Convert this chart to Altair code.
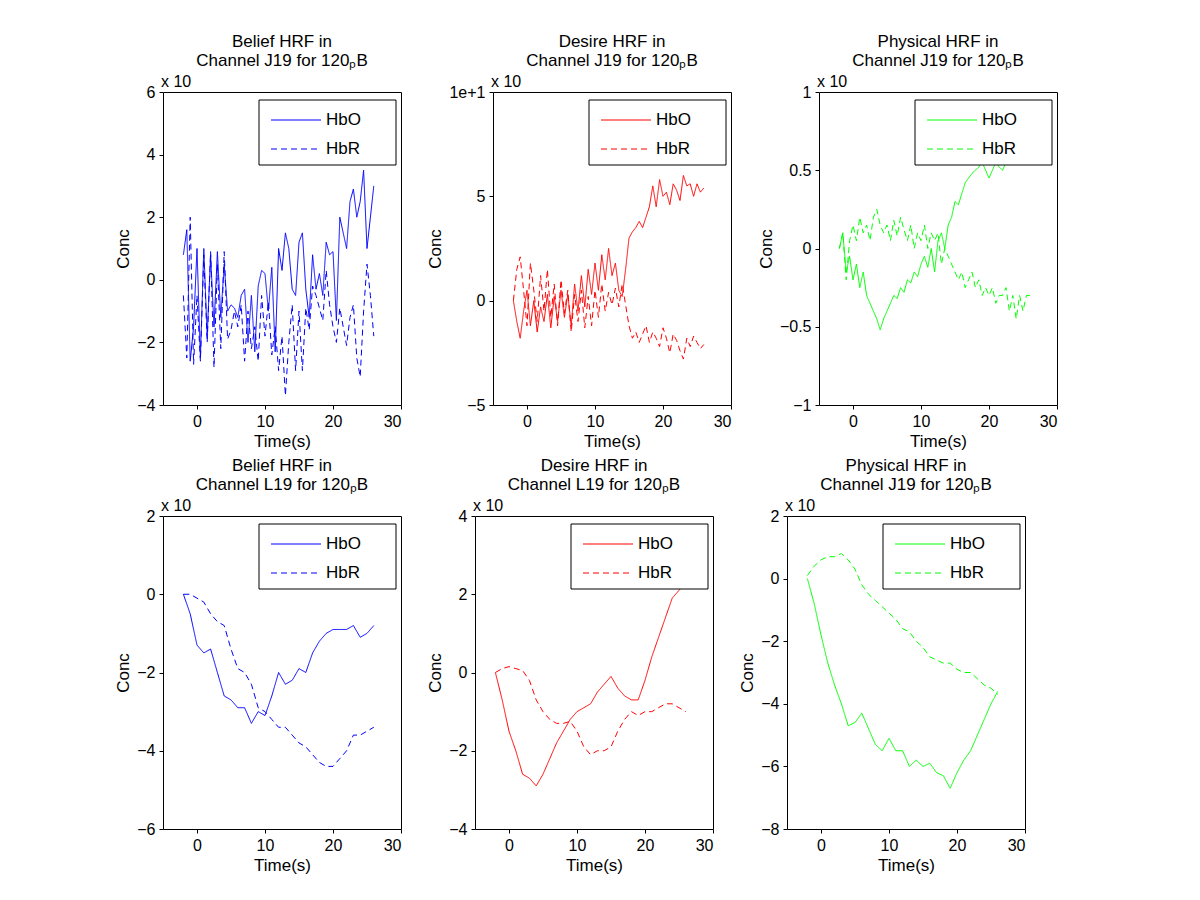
import altair as alt
import pandas as pd

T_FINE = [i * 0.5 - 2 for i in range(57)]
T_COARSE = list(range(-2, 27))
LEGEND = ["HbO", "HbR"]

# top row (0.5 s steps)
belief_j19_hbo = [0.8, 1.6, -2.6, -1.5, 1.0, -2.5, 1.0, -1.8, 0.8, -1.5, 0.9, -1.2, 0.5, -1.0, -0.8, -0.9,
                  -1.2, -0.5, -0.3, -2.0, -0.5, -2.3, -0.2, 0.3, 0.2, -1.0, 0.4, -2.3, 1.0, 0.3, 1.5, 1.0,
                  -0.3, -0.5, 1.2, 1.5, -0.3, -1.2, 0.8, -0.3, 0.2, -0.5, 1.2, 0.8, 0.9, -1.3, 2.0, 1.5,
                  1.0, 2.5, 2.9, 2.0, 2.5, 3.5, 1.0, 2.0, 3.0]
belief_j19_hbr = [-0.5, -2.5, 2.0, -2.7, -0.5, -2.6, 0.8, -2.0, 0.9, -2.8, 0.5, -2.2, 0.9, -1.9, -1.6, -1.0,
                  -1.5, -0.8, -2.6, -1.0, -2.2, -1.5, -2.6, -0.5, -1.8, -0.7, -2.4, -1.5, -2.9, -1.8, -3.7, -2.0,
                  -0.8, -2.9, -1.0, -2.9, -0.9, -1.6, -0.2, -0.5, -0.9, -1.3, 0.3, -0.8, -1.5, -2.0, -0.9, -1.5,
                  -2.1, -1.2, -0.8, -2.5, -3.1, -1.0, 0.5, -0.5, -1.8]
desire_j19_hbo = [0, -1, -1.8, -0.5, 0.5, -1.2, 0, -1.5, -0.3, -1.0, 0.3, -1.3, 0.2, -1.0, 0.5, -0.8,
                  0.3, -1.2, 0.8, -0.5, 1.2, -0.3, 1.5, 0.3, 1.8, 0.5, 2.2, 1.0, 2.5, 1.2, 1.8, 0.5,
                  0.2, 1.5, 3.0, 3.3, 3.5, 3.8, 3.5, 4.0, 4.5, 5.5, 4.5, 5.8, 5.0, 5.2, 4.6, 5.6,
                  5.3, 4.8, 6.0, 5.5, 5.6, 5.0, 5.6, 5.2, 5.4]
desire_j19_hbr = [0, 1.5, 2.1, 0.5, -1.2, 1.8, 0.5, -1.0, 1.2, -0.5, 1.5, -0.8, 0.8, -1.2, 1.0, -0.6,
                  0.5, -1.5, 0.3, -1.0, 0.5, -1.3, 0.2, -1.2, 0.5, -0.8, 0.8, -0.5, 0.4, -0.2, 0.6, -0.3,
                  0.8, -0.2, -1.2, -1.8, -1.5, -2.0, -1.6, -1.2, -2.0, -1.5, -1.8, -2.2, -1.3, -1.8, -2.5, -1.6,
                  -1.9, -2.4, -2.8, -1.8, -2.2, -1.7, -2.0, -2.3, -2.1]
physical_j19_hbo = [0, 0.1, -0.15, -0.05, -0.2, -0.1, -0.25, -0.15, -0.3, -0.35, -0.4, -0.45, -0.52, -0.45, -0.4, -0.35,
                    -0.3, -0.32, -0.25, -0.28, -0.2, -0.22, -0.15, -0.18, -0.1, -0.05, -0.12, 0.0, -0.15, 0.05, 0.1, 0.0,
                    0.15, 0.2, 0.3, 0.28, 0.35, 0.42, 0.45, 0.48, 0.5, 0.52, 0.55, 0.5, 0.45, 0.5, 0.55, 0.52,
                    0.5, 0.55, 0.58, 0.55, 0.6, 0.58, 0.62, 0.6, 0.6]
physical_j19_hbr = [0, 0.1, -0.2, 0.05, 0.15, 0.05, 0.2, 0.1, 0.15, 0.05, 0.2, 0.25, 0.15, 0.1, 0.15, 0.05,
                    0.18, 0.08, 0.2, 0.12, 0.05, 0.15, 0.0, 0.1, 0.05, 0.15, 0.0, 0.1, 0.05, 0.1, -0.1, 0.0,
                    -0.05, -0.1, -0.15, -0.2, -0.15, -0.25, -0.2, -0.15, -0.25, -0.2, -0.3, -0.25, -0.3, -0.25, -0.35, -0.3,
                    -0.3, -0.25, -0.4, -0.3, -0.45, -0.3, -0.4, -0.3, -0.3]

# bottom row (1 s steps)
belief_l19_hbo = [0, -0.5, -1.3, -1.5, -1.4, -2.0, -2.6, -2.7, -2.9, -2.9, -3.3, -3.0, -3.1, -2.6, -2.0,
                  -2.3, -2.2, -1.9, -2.0, -1.5, -1.2, -1.0, -0.9, -0.9, -0.9, -0.8, -1.1, -1.0, -0.8]
belief_l19_hbr = [0, 0, -0.1, -0.2, -0.5, -0.7, -0.8, -1.4, -1.9, -2.0, -2.3, -2.9, -3.0, -3.2, -3.4,
                  -3.4, -3.6, -3.8, -3.9, -4.1, -4.3, -4.4, -4.4, -4.2, -4.0, -3.6, -3.6, -3.5, -3.4]
desire_l19_hbo = [0, -0.7, -1.5, -2.0, -2.6, -2.7, -2.9, -2.6, -2.2, -1.8, -1.5, -1.2, -1.0, -0.9, -0.8,
                  -0.5, -0.3, -0.1, -0.4, -0.6, -0.7, -0.7, -0.2, 0.4, 0.9, 1.4, 1.9, 2.1, 2.3]
desire_l19_hbr = [0, 0.1, 0.15, 0.1, 0.05, -0.2, -0.7, -1.0, -1.2, -1.3, -1.3, -1.25, -1.5, -1.9, -2.1,
                  -2.0, -2.0, -1.9, -1.5, -1.2, -1.0, -1.1, -1.0, -1.0, -0.9, -0.8, -0.8, -0.9, -1.0]
physical_b_hbo = [0, -0.8, -1.8, -2.7, -3.4, -4.0, -4.7, -4.6, -4.3, -4.8, -5.3, -5.5, -5.1, -5.5, -5.5,
                  -6.0, -5.8, -6.0, -5.9, -6.2, -6.3, -6.7, -6.2, -5.8, -5.5, -5.0, -4.5, -4.0, -3.6]
physical_b_hbr = [0.1, 0.4, 0.6, 0.7, 0.7, 0.8, 0.6, 0.3, -0.2, -0.5, -0.7, -0.9, -1.1, -1.3, -1.6,
                  -1.7, -2.0, -2.2, -2.5, -2.6, -2.7, -2.7, -2.9, -3.0, -3.0, -3.2, -3.4, -3.5, -3.7]

W, H = 238, 313
FONT = "Liberation Sans"


def panel(title, t, hbo, hbr, color, domain, step):
    df = pd.DataFrame({
        "t": list(t) * 2,
        "v": list(hbo) + list(hbr),
        "s": [LEGEND[0]] * len(t) + [LEGEND[1]] * len(t),
    })
    ticks = []
    v = domain[0]
    while v <= domain[1] + 1e-9:
        ticks.append(round(v, 3))
        v += step
    lines = alt.Chart(df).mark_line(color=color, strokeWidth=1, clip=True).encode(
        x=alt.X("t:Q", title="Time(s)", scale=alt.Scale(domain=[-5, 30], nice=False),
                axis=alt.Axis(values=[0, 10, 20, 30])),
        y=alt.Y("v:Q", title="Conc", scale=alt.Scale(domain=domain, nice=False),
                axis=alt.Axis(values=ticks, format="~g")),
        strokeDash=alt.StrokeDash("s:N", scale=alt.Scale(domain=LEGEND, range=[[1, 0], [6, 4]]), legend=None),
        detail="s:N",
    )
    one = alt.Chart(pd.DataFrame({"a": [0]}))
    box = one.mark_rect(fill="white", stroke="black", strokeWidth=1).encode(
        x=alt.value(96), x2=alt.value(233), y=alt.value(8), y2=alt.value(73))
    leg_df = pd.DataFrame({"s": LEGEND, "y": [28, 57]})
    leg_lines = alt.Chart(leg_df).mark_rule(color=color, strokeWidth=1).encode(
        x=alt.value(108), x2=alt.value(158), y=alt.Y("y:Q", scale=None),
        strokeDash=alt.StrokeDash("s:N", scale=alt.Scale(domain=LEGEND, range=[[1, 0], [6, 4]]), legend=None))
    leg_text = alt.Chart(leg_df).mark_text(align="left", baseline="middle", fontSize=17, font=FONT).encode(
        x=alt.value(163), y=alt.Y("y:Q", scale=None), text="s:N")
    expo = one.mark_text(align="left", baseline="bottom", fontSize=16, font=FONT).encode(
        x=alt.value(-2), y=alt.value(-2), text=alt.value("x 10"))
    return alt.layer(lines, box, leg_lines, leg_text, expo).properties(
        width=W, height=H,
        title=alt.Title(title, fontSize=17, font=FONT, fontWeight="normal", offset=4),
    )


row1 = alt.hconcat(
    panel(["Belief HRF in", "Channel J19 for 120ₚB"], T_FINE, belief_j19_hbo, belief_j19_hbr, "#0000ff", [-4, 6], 2),
    panel(["Desire HRF in", "Channel J19 for 120ₚB"], T_FINE, desire_j19_hbo, desire_j19_hbr, "#ff0000", [-5, 10], 5),
    panel(["Physical HRF in", "Channel J19 for 120ₚB"], T_FINE, physical_j19_hbo, physical_j19_hbr, "#00ff00", [-1, 1], 0.5),
    spacing=24,
)
row2 = alt.hconcat(
    panel(["Belief HRF in", "Channel L19 for 120ₚB"], T_COARSE, belief_l19_hbo, belief_l19_hbr, "#0000ff", [-6, 2], 2),
    panel(["Desire HRF in", "Channel L19 for 120ₚB"], T_COARSE, desire_l19_hbo, desire_l19_hbr, "#ff0000", [-4, 4], 2),
    panel(["Physical HRF in", "Channel J19 for 120ₚB"], T_COARSE, physical_b_hbo, physical_b_hbr, "#00ff00", [-8, 2], 2),
    spacing=24,
)
chart = alt.vconcat(row1, row2, spacing=6).properties(
    padding={"left": 106, "top": 24, "right": 10, "bottom": 10},
    background="white",
).configure_view(stroke="black", strokeWidth=1).configure_axis(
    grid=False, domain=False, tickColor="black", tickSize=4, labelFontSize=16, titleFontSize=17,
    labelFont=FONT, titleFont=FONT, labelColor="black", titleColor="black", titleFontWeight="normal",
    labelPadding=4,
)

chart.save("out.html", embed_options={"renderer": "svg", "actions": False})
